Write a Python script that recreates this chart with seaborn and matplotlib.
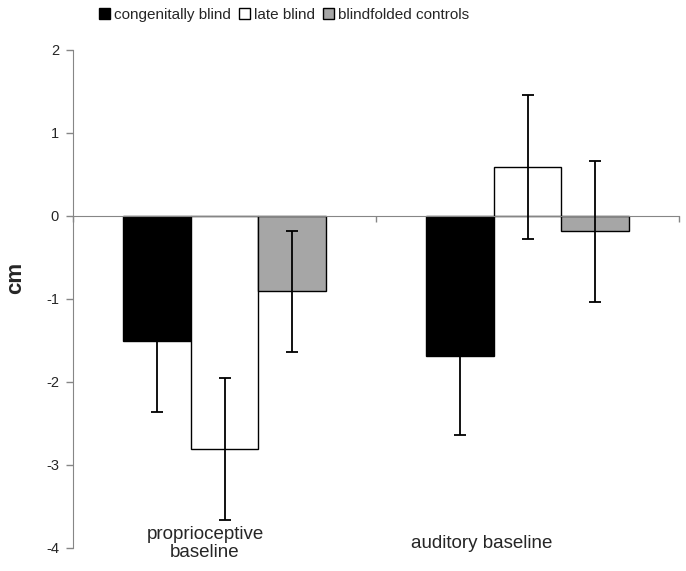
import matplotlib
matplotlib.use('Agg')
import matplotlib.pyplot as plt
import numpy as np
import pandas as pd
import seaborn as sns

# values
conditions = ['proprioceptive\nbaseline', 'auditory baseline']
groups = ['congenitally blind', 'late blind', 'blindfolded controls']
congenital_mean = [-1.51, -1.69]
late_mean = [-2.81, 0.59]
control_mean = [-0.91, -0.19]
congenital_err = [0.85, 0.95]
late_err = [0.86, 0.87]
control_err = [0.73, 0.85]

means = [congenital_mean, late_mean, control_mean]
errs = [congenital_err, late_err, control_err]
df = pd.DataFrame({
    'condition': conditions * len(groups),
    'group': [g for g in groups for _ in conditions],
    'cm': [v for m in means for v in m],
    'err': [v for e in errs for v in e],
})

sns.set_style('white')
plt.rcParams['font.family'] = ['Liberation Sans', 'DejaVu Sans']
plt.rcParams['axes.unicode_minus'] = False

fig = plt.figure(figsize=(6.86, 5.71), dpi=100)
ax = fig.add_axes([73 / 686, 1 - 547.7 / 571, 606 / 686, 498 / 571])

palette = ['#000000', '#ffffff', '#a6a6a6']
sns.barplot(data=df, x='condition', y='cm', hue='group', order=conditions,
            hue_order=groups, palette=palette, errorbar=None, width=0.667,
            edgecolor='black', linewidth=1.0, saturation=1, ax=ax, legend=True)

# error bars at the bar centres that seaborn placed
for cont, g in zip(ax.containers, groups):
    sub = df[df.group == g].set_index('condition').loc[conditions]
    xs = [p.get_x() + p.get_width() / 2 for p in cont.patches]
    ax.errorbar(xs, sub.cm.values, yerr=sub.err.values, fmt='none',
                ecolor='black', elinewidth=1.3, capsize=4, capthick=1.3, zorder=5)

gray = '#868686'
ax.set_ylim(-4, 2)
ax.set_xlim(-0.5, 1.5)
ax.set_yticks(np.arange(-4, 3, 1))
ax.tick_params(axis='y', direction='out', length=5, width=1, color=gray,
               labelsize=10.5, pad=5, left=True)
ax.spines['top'].set_visible(False)
ax.spines['right'].set_visible(False)
ax.spines['left'].set_color(gray)
ax.spines['bottom'].set_color(gray)
ax.spines['bottom'].set_position(('data', 0))
ax.set_xticks([-0.5, 0.5, 1.5])
ax.set_xticklabels(['', '', ''])
ax.tick_params(axis='x', direction='out', length=4, width=1, color=gray, bottom=True)
ax.set_xlabel('')
ax.set_ylabel('')

# category labels sit a little left of the bar groups, as in the original
label_x = [-0.064, 0.85]
for x, c in zip(label_x, conditions):
    ax.text(x, 0.008, c, transform=ax.get_xaxis_transform(), ha='center',
            va='center', fontsize=13.5, linespacing=1.1)

fig.text(16 / 686, 1 - 278 / 571, 'cm', rotation=90, ha='center', va='center',
         fontsize=16, fontweight='bold')

handles, labels = ax.get_legend_handles_labels()
ax.legend(handles, labels, loc='center left', bbox_to_anchor=(99 / 686, 1 - 15 / 571),
          bbox_transform=fig.transFigure, ncol=3, frameon=False, fontsize=11,
          handlelength=0.75, handleheight=0.75, handletextpad=0.25,
          columnspacing=0.5, borderpad=0, borderaxespad=0)

plt.savefig('out.png', dpi=100)
plt.close()
